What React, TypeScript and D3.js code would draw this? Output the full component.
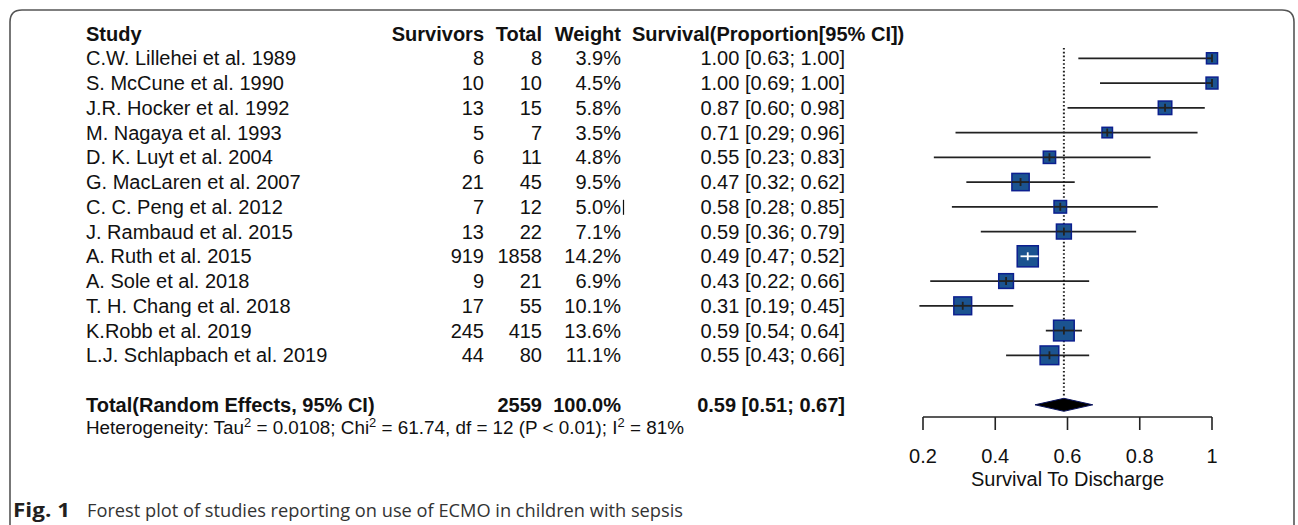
import React from "react";
import * as d3 from "d3";

const width = 1298;
const height = 525;

const studies = [
  "C.W. Lillehei et al. 1989",
  "S. McCune et al. 1990",
  "J.R. Hocker et al. 1992",
  "M. Nagaya et al. 1993",
  "D. K. Luyt et al. 2004",
  "G. MacLaren et al. 2007",
  "C. C. Peng et al. 2012",
  "J. Rambaud et al. 2015",
  "A. Ruth et al. 2015",
  "A. Sole et al. 2018",
  "T. H. Chang et al. 2018",
  "K.Robb et al. 2019",
  "L.J. Schlapbach et al. 2019",
];
const survivors = [8, 10, 13, 5, 6, 21, 7, 13, 919, 9, 17, 245, 44];
const totals = [8, 10, 15, 7, 11, 45, 12, 22, 1858, 21, 55, 415, 80];
const weights = [3.9, 4.5, 5.8, 3.5, 4.8, 9.5, 5.0, 7.1, 14.2, 6.9, 10.1, 13.6, 11.1];
const estimates = [1.0, 1.0, 0.87, 0.71, 0.55, 0.47, 0.58, 0.59, 0.49, 0.43, 0.31, 0.59, 0.55];
const lowers = [0.63, 0.69, 0.6, 0.29, 0.23, 0.32, 0.28, 0.36, 0.47, 0.22, 0.19, 0.54, 0.43];
const uppers = [1.0, 1.0, 0.98, 0.96, 0.83, 0.62, 0.85, 0.79, 0.52, 0.66, 0.45, 0.64, 0.66];

const pooled = { est: 0.59, lower: 0.51, upper: 0.67, total: 2559 };
const xTicks = [0.2, 0.4, 0.6, 0.8, 1];

// layout
const rowTop = 58.3;
const rowStep = 24.75;
const rowY = (i: number) => rowTop + rowStep * i;
const totalIdx = studies.length + 1;

const colStudy = 86;
const colSurv = 484;
const colTotal = 542;
const colWeight = 621;
const colCI = 845;
const colHeadCI = 632;

const x = d3.scaleLinear().domain([0.2, 1]).range([923, 1212]);
const axisY = 417;
const fmt2 = d3.format(".2f");
const fmtTick = d3.format("~g");

const font = "'Liberation Sans', Arial, Helvetica, sans-serif";
const boxFill = "#1b5390";
const boxStroke = "#0c1f8f";

const ciLabel = (i: number) =>
  `${fmt2(estimates[i])} [${fmt2(lowers[i])}; ${fmt2(uppers[i])}]`;

const App = () => {
  const diamond = d3.line()([
    [x(pooled.lower), rowY(totalIdx)],
    [x(pooled.est), rowY(totalIdx) - 6.5],
    [x(pooled.upper), rowY(totalIdx)],
    [x(pooled.est), rowY(totalIdx) + 6.5],
  ]) + "Z";

  const r = 12;
  const frame = `M10,${height + 5} L10,${10 + r} Q10,10 ${10 + r},10 L${1294 - r},10 Q1294,10 1294,${10 + r} L1294,${height + 5}`;

  return (
    <svg
      width={width}
      height={height}
      style={{ position: "absolute", left: 0, top: 0, background: "#fff" }}
      fontFamily={font}
    >
      <path d={frame} fill="none" stroke="#555" strokeWidth={1.6} />

      {/* header */}
      <g fontWeight="bold" fontSize={20} fill="#111">
        <text x={colStudy} y={rowY(-1) + 7}>Study</text>
        <text x={colSurv} y={rowY(-1) + 7} textAnchor="end">Survivors</text>
        <text x={colTotal} y={rowY(-1) + 7} textAnchor="end">Total</text>
        <text x={colWeight} y={rowY(-1) + 7} textAnchor="end">Weight</text>
        <text x={colHeadCI} y={rowY(-1) + 7}>Survival(Proportion[95% CI])</text>
      </g>

      {/* study rows */}
      <g fontSize={20} fill="#111">
        {studies.map((s, i) => (
          <g key={s}>
            <text x={colStudy} y={rowY(i) + 7}>{s}</text>
            <text x={colSurv} y={rowY(i) + 7} textAnchor="end">{survivors[i]}</text>
            <text x={colTotal} y={rowY(i) + 7} textAnchor="end">{totals[i]}</text>
            <text x={colWeight} y={rowY(i) + 7} textAnchor="end">{weights[i].toFixed(1)}%</text>
            <text x={colCI} y={rowY(i) + 7} textAnchor="end">{ciLabel(i)}</text>
          </g>
        ))}
      </g>
      {/* stray cursor mark next to 5.0% */}
      <line x1={623.5} x2={623.5} y1={rowY(6) - 7} y2={rowY(6) + 8} stroke="#111" strokeWidth={1.2} />

      {/* total row */}
      <g fontSize={20} fontWeight="bold" fill="#111">
        <text x={colStudy} y={rowY(totalIdx) + 7}>Total(Random Effects, 95% CI)</text>
        <text x={colTotal} y={rowY(totalIdx) + 7} textAnchor="end">{pooled.total}</text>
        <text x={colWeight} y={rowY(totalIdx) + 7} textAnchor="end">100.0%</text>
        <text x={colCI} y={rowY(totalIdx) + 7} textAnchor="end">
          {`${fmt2(pooled.est)} [${fmt2(pooled.lower)}; ${fmt2(pooled.upper)}]`}
        </text>
      </g>
      <text x={colStudy} y={434} fontSize={17.5} fill="#111" textLength={598} lengthAdjust="spacingAndGlyphs">
        Heterogeneity: Tau<tspan dy={-7} fontSize={12}>2</tspan>
        <tspan dy={7}> = 0.0108; Chi</tspan>
        <tspan dy={-7} fontSize={12}>2</tspan>
        <tspan dy={7}> = 61.74, df = 12 (P &lt; 0.01); I</tspan>
        <tspan dy={-7} fontSize={12}>2</tspan>
        <tspan dy={7}> = 81%</tspan>
      </text>

      {/* reference line at pooled estimate */}
      <line
        x1={x(pooled.est)}
        x2={x(pooled.est)}
        y1={48}
        y2={rowY(totalIdx) - 8}
        stroke="#222"
        strokeWidth={2}
        strokeDasharray="1.6,2.2"
      />

      {/* CI lines and boxes */}
      {studies.map((s, i) => {
        const side = 5.6 * Math.sqrt(weights[i]);
        const cx = x(estimates[i]);
        const cy = rowY(i);
        const inside = x(lowers[i]) >= cx - side / 2 - 1 && x(uppers[i]) <= cx + side / 2 + 1;
        const c = inside ? "#fff" : "#222";
        return (
          <g key={s}>
            {!inside && (
              <line x1={x(lowers[i])} x2={x(uppers[i])} y1={cy} y2={cy} stroke={c} strokeWidth={1.8} />
            )}
            <rect
              x={cx - side / 2}
              y={cy - side / 2}
              width={side}
              height={side}
              fill={boxFill}
              stroke={boxStroke}
              strokeWidth={1.5}
            />
            <line x1={Math.max(x(lowers[i]), cx - side / 2)} x2={Math.min(x(uppers[i]), cx + side / 2)} y1={cy} y2={cy} stroke={c} strokeWidth={1.8} />
            <line x1={cx} x2={cx} y1={cy - 4} y2={cy + 4} stroke={c} strokeWidth={1.8} />
          </g>
        );
      })}

      <path d={diamond} fill="#000" stroke="#0c1560" strokeWidth={1} />

      {/* axis */}
      <g stroke="#222" strokeWidth={1.6} fill="none">
        <line x1={x(0.2)} x2={x(1)} y1={axisY} y2={axisY} />
        {xTicks.map((t) => (
          <line key={t} x1={x(t)} x2={x(t)} y1={axisY} y2={axisY + 13} />
        ))}
      </g>
      <g fontSize={20} fill="#111" textAnchor="middle">
        {xTicks.map((t) => (
          <text key={t} x={x(t)} y={462.5}>{fmtTick(t)}</text>
        ))}
        <text x={x(0.6)} y={485.5}>Survival To Discharge</text>
      </g>

      {/* caption */}
      <g fontFamily="'Open Sans', 'Noto Sans', sans-serif" fontSize={19} fill="#231f20">
        <text x={13} y={517} fontWeight="bold" textLength={57} lengthAdjust="spacingAndGlyphs">Fig. 1</text>
        <text x={87} y={517} textLength={596} lengthAdjust="spacingAndGlyphs" fill="#333">
          Forest plot of studies reporting on use of ECMO in children with sepsis
        </text>
      </g>
    </svg>
  );
};

export default App;
